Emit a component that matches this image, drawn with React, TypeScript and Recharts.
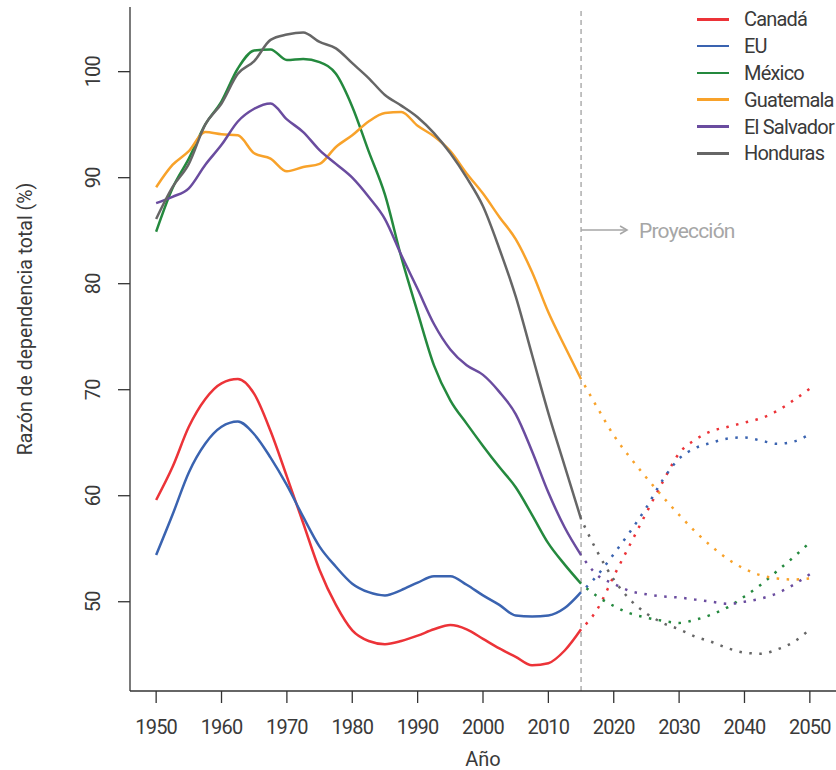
import { LineChart, Line, XAxis, YAxis, ReferenceLine, Legend } from "recharts";

// años con datos observados y proyectados
const histYears = [
  1950, 1952.5, 1955, 1957.5, 1960, 1962.5, 1965, 1967.5, 1970, 1972.5, 1975, 1977.5, 1980, 1982.5,
  1985, 1987.5, 1990, 1992.5, 1995, 1997.5, 2000, 2002.5, 2005, 2007.5, 2010, 2012.5, 2015,
];
const projYears = [2015, 2017.5, 2020, 2022.5, 2025, 2027.5, 2030, 2032.5, 2035, 2037.5, 2040, 2042.5, 2045, 2047.5, 2050];

const xTicks = [1950, 1960, 1970, 1980, 1990, 2000, 2010, 2020, 2030, 2040, 2050];
const yTicks = [50, 60, 70, 80, 90, 100];

const canadaHist = [59.6, 62.7, 66.5, 69.1, 70.6, 71.0, 69.6, 66.1, 61.8, 57.4, 53.0, 49.7, 47.3, 46.3, 46.0, 46.3, 46.8, 47.4, 47.8, 47.4, 46.5, 45.6, 44.8, 44.0, 44.2, 45.4, 47.4];
const euHist = [54.4, 58.2, 62.2, 64.9, 66.5, 67.0, 65.8, 63.6, 61.0, 58.0, 55.2, 53.3, 51.7, 50.9, 50.6, 51.1, 51.8, 52.4, 52.4, 51.6, 50.6, 49.7, 48.7, 48.6, 48.7, 49.4, 50.9];
const mexicoHist = [84.9, 89.0, 91.8, 95.0, 97.2, 100.3, 102.0, 102.1, 101.1, 101.2, 100.9, 99.8, 96.7, 92.5, 88.4, 82.5, 77.3, 72.3, 69.0, 66.8, 64.7, 62.7, 60.8, 58.2, 55.5, 53.5, 51.7];
const guatemalaHist = [89.1, 91.2, 92.5, 94.3, 94.1, 94.0, 92.3, 91.8, 90.6, 91.0, 91.3, 92.9, 94.0, 95.3, 96.1, 96.2, 94.9, 93.9, 92.5, 90.4, 88.5, 86.3, 84.2, 81.1, 77.3, 74.1, 71.0];
const salvadorHist = [87.6, 88.2, 89.0, 91.2, 93.1, 95.3, 96.5, 97.0, 95.5, 94.3, 92.6, 91.3, 90.0, 88.2, 86.1, 82.7, 79.5, 76.2, 73.8, 72.3, 71.4, 69.8, 67.7, 64.2, 60.3, 57.0, 54.4];
const hondurasHist = [86.1, 89.1, 91.3, 95.0, 97.0, 99.8, 101.0, 103.0, 103.5, 103.7, 102.8, 102.2, 100.8, 99.4, 97.8, 96.8, 95.7, 94.2, 92.3, 90.0, 87.3, 83.3, 78.8, 73.3, 67.8, 62.8, 57.8];

const canadaProj = [47.4, 49.3, 52.4, 55.4, 58.4, 61.3, 64.0, 65.3, 66.1, 66.5, 66.9, 67.3, 68.0, 69.0, 70.1];
const euProj = [50.9, 52.5, 54.5, 56.6, 58.9, 61.5, 63.5, 64.5, 65.0, 65.4, 65.5, 65.2, 64.9, 65.1, 65.8];
const mexicoProj = [51.7, 50.5, 49.6, 48.9, 48.5, 48.2, 48.0, 48.3, 48.8, 49.5, 50.5, 51.6, 52.9, 54.2, 55.6];
const guatemalaProj = [71.0, 68.3, 65.7, 63.6, 61.7, 59.9, 58.2, 56.6, 55.2, 54.0, 53.1, 52.5, 52.2, 52.1, 52.2];
const salvadorProj = [54.4, 52.5, 51.7, 51.0, 50.7, 50.5, 50.4, 50.2, 50.0, 49.8, 50.0, 50.3, 50.8, 51.6, 52.6];
const hondurasProj = [57.8, 54.7, 52.1, 50.2, 48.9, 48.0, 47.4, 46.7, 46.2, 45.6, 45.2, 45.1, 45.5, 46.2, 47.4];

const series = [
  { key: "canada", name: "Canadá", color: "#ec3338", hist: canadaHist, proj: canadaProj },
  { key: "eu", name: "EU", color: "#3a63b0", hist: euHist, proj: euProj },
  { key: "mexico", name: "México", color: "#24893e", hist: mexicoHist, proj: mexicoProj },
  { key: "guatemala", name: "Guatemala", color: "#f8a22a", hist: guatemalaHist, proj: guatemalaProj },
  { key: "salvador", name: "El Salvador", color: "#6a4c9f", hist: salvadorHist, proj: salvadorProj },
  { key: "honduras", name: "Honduras", color: "#666666", hist: hondurasHist, proj: hondurasProj },
];

const rows = new Map<number, any>();
histYears.forEach((year, i) => {
  const r = rows.get(year) || { year };
  series.forEach((s) => (r[s.key] = s.hist[i]));
  rows.set(year, r);
});
projYears.forEach((year, i) => {
  const r = rows.get(year) || { year };
  series.forEach((s) => (r[s.key + "P"] = s.proj[i]));
  rows.set(year, r);
});
const data = [...rows.values()].sort((a, b) => a.year - b.year);

const FONT = "Roboto, 'Noto Sans', sans-serif";
const INK = "#3a3a3a";

const XTick = ({ x, y, payload }: any) => (
  <text x={x} y={y + 31} textAnchor="middle" fontFamily={FONT} fontSize={20} letterSpacing={-0.8} fill={INK}>
    {payload.value}
  </text>
);

const YTick = ({ x, y, payload }: any) => (
  <text
    x={x - 18}
    y={y}
    transform={`rotate(-90, ${x - 18}, ${y})`}
    textAnchor="middle"
    fontFamily={FONT}
    fontSize={20}
    letterSpacing={-0.8}
    fill={INK}
  >
    {payload.value}
  </text>
);

const LegendBox = () => (
  <div style={{ fontFamily: FONT, fontSize: 20, letterSpacing: -0.8, color: INK, lineHeight: 1 }}>
    {series.map((s) => (
      <div key={s.key} style={{ display: "flex", alignItems: "center", height: 26.8 }}>
        <span style={{ display: "inline-block", width: 32, height: 2.6, background: s.color, marginRight: 15 }} />
        <span>{s.name}</span>
      </div>
    ))}
  </div>
);

const ProjLabel = (p: any) => {
  const vb = p.viewBox || {};
  const x = vb.x;
  const top = Math.min(vb.y, vb.y + (vb.height || 0));
  const ay = top + 223;
  return (
    <g>
      <line x1={x} y1={ay} x2={x + 46} y2={ay} stroke="#a6a6a6" strokeWidth={1.5} />
      <polyline points={`${x + 39},${ay - 4} ${x + 46},${ay} ${x + 39},${ay + 4}`} fill="none" stroke="#a6a6a6" strokeWidth={1.5} />
      <text x={x + 58} y={ay + 8} fontFamily={FONT} fontSize={21} letterSpacing={-0.8} fill="#a6a6a6">
        Proyección
      </text>
    </g>
  );
};

export default function App() {
  return (
    <div style={{ position: "absolute", left: 0, top: 0, width: 836, height: 770, background: "#fff" }}>
      <LineChart width={836} height={770} data={data} margin={{ top: 7, right: 0, left: 0, bottom: 0 }}>
        <XAxis
          dataKey="year"
          type="number"
          domain={[1946, 2054]}
          ticks={xTicks}
          allowDataOverflow
          height={79}
          tickSize={12}
          tickMargin={0}
          tick={<XTick />}
          stroke="#333"
          strokeWidth={1.3}
          label={{ value: "Año", position: "insideBottom", offset: 4, fontFamily: FONT, fontSize: 20, fill: INK }}
        />
        <YAxis
          type="number"
          domain={[41.58, 106.1]}
          ticks={yTicks}
          allowDataOverflow
          width={130}
          tickSize={12}
          tickMargin={0}
          tick={<YTick />}
          stroke="#333"
          strokeWidth={1.3}
        />
        <text
          x={32}
          y={319}
          transform="rotate(-90, 32, 319)"
          textAnchor="middle"
          fontFamily={FONT}
          fontSize={19.5}
          fill={INK}
        >
          Razón de dependencia total (%)
        </text>
        <ReferenceLine x={2015} stroke="#999" strokeDasharray="5 4" strokeWidth={1.2} label={<ProjLabel />} />
        {series.map((s) => (
          <Line
            key={s.key}
            dataKey={s.key}
            name={s.name}
            type="monotone"
            stroke={s.color}
            strokeWidth={2.5}
            dot={false}
            activeDot={false}
            isAnimationActive={false}
          />
        ))}
        {series.map((s) => (
          <Line
            key={s.key + "P"}
            dataKey={s.key + "P"}
            legendType="none"
            type="monotone"
            stroke={s.color}
            strokeWidth={2.5}
            strokeDasharray="2.5 7.5"
            strokeDashoffset={-7}
            dot={false}
            activeDot={false}
            isAnimationActive={false}
          />
        ))}
        <Legend
          layout="vertical"
          align="center"
          verticalAlign="middle"
          content={<LegendBox />}
          wrapperStyle={{ top: 6, left: 697, width: 140, right: "auto", bottom: "auto" }}
        />
      </LineChart>
    </div>
  );
}
